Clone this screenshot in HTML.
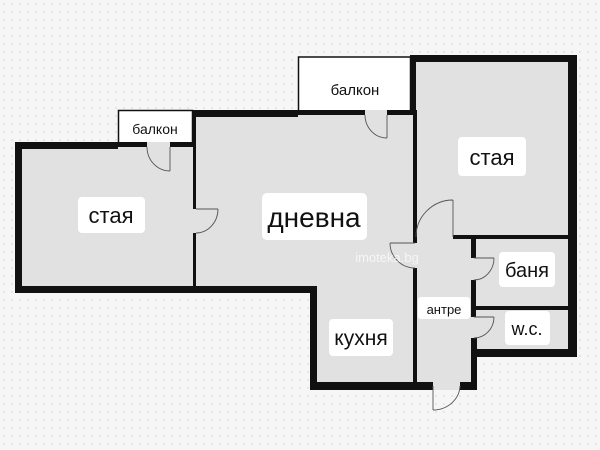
<!DOCTYPE html>
<html><head><meta charset="utf-8"><style>
html,body{margin:0;padding:0;background:#f6f6f6}
svg{display:block}
text{font-family:"Liberation Sans","DejaVu Sans",sans-serif;fill:#111}
</style></head><body>
<svg width="600" height="450" viewBox="0 0 600 450" xmlns="http://www.w3.org/2000/svg">
<defs><pattern id="d" width="8" height="8" patternUnits="userSpaceOnUse"><circle cx="4" cy="4" r="0.8" fill="#d2d2d2"/></pattern></defs>
<rect width="600" height="450" fill="#f6f6f6"/>
<rect width="600" height="450" fill="url(#d)"/>
<!-- balconies -->
<rect x="118.5" y="110.5" width="74" height="37" fill="#fff" stroke="#111" stroke-width="1.5"/>
<rect x="298.5" y="57" width="112" height="57" fill="#fff" stroke="#111" stroke-width="1.5"/>
<!-- floor fills -->
<g fill="#e1e1e1">
<rect x="15" y="142" width="181" height="151"/>
<rect x="193" y="110" width="223" height="183"/>
<rect x="310" y="286" width="106" height="104"/>
<rect x="410" y="55" width="167" height="302"/>
<rect x="410" y="230" width="67" height="160"/>
</g>
<!-- walls -->
<g fill="#111">
<rect x="15" y="142" width="7" height="151"/>
<rect x="15" y="142" width="103" height="7"/>
<rect x="118" y="142" width="29" height="5"/>
<rect x="170" y="142" width="26" height="5"/>
<rect x="15" y="286" width="302" height="7"/>
<rect x="193" y="110" width="3" height="99"/>
<rect x="193" y="233" width="3" height="60"/>
<rect x="192" y="110" width="106" height="7"/>
<rect x="298" y="110" width="67" height="5"/>
<rect x="387" y="110" width="26" height="5"/>
<rect x="310" y="286" width="7" height="104"/>
<rect x="310" y="382" width="123" height="8"/>
<rect x="460" y="382" width="17" height="8"/>
<rect x="410" y="55" width="167" height="7"/>
<rect x="410" y="55" width="6" height="60"/>
<rect x="413" y="110" width="4" height="133"/>
<rect x="413" y="268" width="4" height="118"/>
<rect x="568" y="55" width="9" height="302"/>
<rect x="453" y="235" width="120" height="4"/>
<rect x="471" y="235" width="5" height="23"/>
<rect x="471" y="280" width="5" height="37"/>
<rect x="471" y="338" width="6" height="52"/>
<rect x="471" y="306" width="100" height="4"/>
<rect x="471" y="349" width="106" height="8"/>
</g>
<!-- doors -->
<g fill="none" stroke="#555" stroke-width="0.9">
<path d="M170 147 V171 M147 147 A23 24 0 0 0 170 171"/>
<path d="M196 209 H218 M218 209 A22 24 0 0 1 196 233"/>
<path d="M387 115 V138 M365 115 A22 23 0 0 0 387 138"/>
<path d="M453 237 V200 M453 200 A37 37 0 0 0 416 237"/>
<path d="M415 243 H390 M390 243 A25 25 0 0 0 415 268"/>
<path d="M474 258 H494 M494 258 A20 22 0 0 1 474 280"/>
<path d="M474 317 H494 M494 317 A20 21 0 0 1 474 338"/>
<path d="M433 386 V410 M433 410 A27 25 0 0 0 460 386"/>
</g>
<!-- labels -->
<g fill="#fff">
<rect x="78" y="197" width="67" height="36" rx="4"/>
<rect x="262" y="193" width="105" height="47" rx="5"/>
<rect x="458" y="137" width="68" height="39" rx="4"/>
<rect x="499" y="252" width="56" height="35" rx="4"/>
<rect x="505" y="311" width="45" height="34" rx="4"/>
<rect x="329" y="319" width="64" height="37" rx="4"/>
<rect x="418" y="297" width="52" height="22" rx="3"/>
</g>
<text x="111" y="223" font-size="22" text-anchor="middle">стая</text>
<text x="314" y="227" font-size="28" text-anchor="middle">дневна</text>
<text x="492" y="165" font-size="22" text-anchor="middle">стая</text>
<text x="527" y="277" font-size="20" text-anchor="middle">баня</text>
<text x="527" y="335" font-size="18" text-anchor="middle">w.c.</text>
<text x="361" y="345" font-size="21" text-anchor="middle">кухня</text>
<text x="444" y="314" font-size="13" text-anchor="middle">антре</text>
<text x="155" y="134" font-size="14" text-anchor="middle">балкон</text>
<text x="355" y="95" font-size="15" text-anchor="middle">балкон</text>
<text x="387" y="262" font-size="13" fill="#fff" fill-opacity="0.7" text-anchor="middle" style="fill:#fff">imoteka.bg</text>
</svg>
</body></html>
